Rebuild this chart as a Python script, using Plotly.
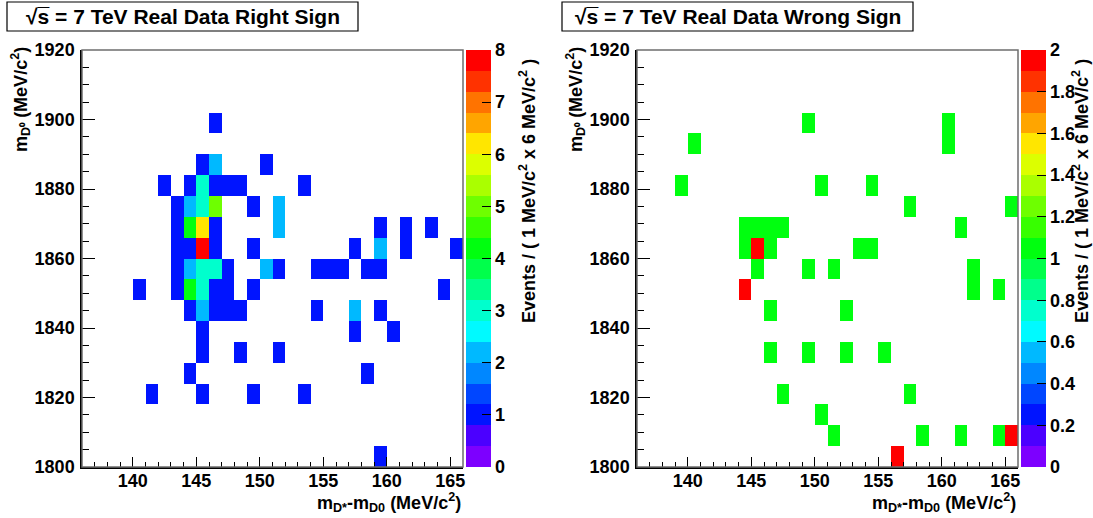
import numpy as np
import plotly.graph_objects as go

W, H = 1093, 518

# ---------------- data ----------------
# bin centres: dm = m(D*) - m(D0) in MeV/c^2 (1 MeV bins), m(D0) in MeV/c^2 (6 MeV bins)
x_edges = np.arange(136, 167, 1)          # 136 .. 166
y_edges = np.arange(1800, 1921, 6)        # 1800 .. 1920

# Right sign: (dm centre, mD0 centre, events)
rs_dm = [146.5,
         145.5, 146.5, 150.5,
         142.5, 144.5, 145.5, 146.5, 147.5, 148.5, 153.5,
         143.5, 144.5, 145.5, 146.5, 149.5, 151.5,
         143.5, 144.5, 145.5, 146.5, 151.5, 159.5, 161.5, 163.5,
         143.5, 144.5, 145.5, 146.5, 149.5, 157.5, 159.5, 161.5, 165.5,
         143.5, 144.5, 145.5, 146.5, 147.5, 150.5, 151.5, 154.5, 155.5, 156.5, 158.5, 159.5,
         140.5, 143.5, 144.5, 145.5, 146.5, 147.5, 149.5, 164.5,
         144.5, 145.5, 146.5, 147.5, 148.5, 154.5, 157.5, 159.5,
         145.5, 157.5, 160.5,
         145.5, 148.5, 151.5,
         144.5, 158.5,
         141.5, 145.5, 149.5, 153.5,
         159.5]
rs_md0 = [1899,
          1887, 1887, 1887,
          1881, 1881, 1881, 1881, 1881, 1881, 1881,
          1875, 1875, 1875, 1875, 1875, 1875,
          1869, 1869, 1869, 1869, 1869, 1869, 1869, 1869,
          1863, 1863, 1863, 1863, 1863, 1863, 1863, 1863, 1863,
          1857, 1857, 1857, 1857, 1857, 1857, 1857, 1857, 1857, 1857, 1857, 1857,
          1851, 1851, 1851, 1851, 1851, 1851, 1851, 1851,
          1845, 1845, 1845, 1845, 1845, 1845, 1845, 1845,
          1839, 1839, 1839,
          1833, 1833, 1833,
          1827, 1827,
          1821, 1821, 1821, 1821,
          1803]
rs_n = [1,
        1, 2, 1,
        1, 1, 3, 1, 1, 1, 1,
        1, 2, 3, 5, 1, 2,
        1, 4, 6, 1, 2, 1, 1, 1,
        1, 1, 8, 1, 1, 1, 2, 1, 1,
        1, 2, 3, 3, 1, 2, 1, 1, 1, 1, 1, 1,
        1, 1, 4, 3, 1, 1, 1, 1,
        1, 2, 1, 1, 1, 1, 2, 1,
        1, 1, 1,
        1, 1, 1,
        1, 1,
        1, 1, 1, 1,
        1]

# Wrong sign
ws_dm = [149.5, 160.5,
         140.5, 160.5,
         139.5, 150.5, 154.5,
         157.5, 165.5,
         144.5, 145.5, 146.5, 147.5, 161.5,
         144.5, 145.5, 146.5, 153.5, 154.5,
         145.5, 149.5, 151.5, 162.5,
         144.5, 162.5, 164.5,
         146.5, 152.5,
         146.5, 149.5, 152.5, 155.5,
         147.5, 157.5,
         150.5,
         151.5, 158.5, 161.5, 164.5, 165.5,
         156.5]
ws_md0 = [1899, 1899,
          1893, 1893,
          1881, 1881, 1881,
          1875, 1875,
          1869, 1869, 1869, 1869, 1869,
          1863, 1863, 1863, 1863, 1863,
          1857, 1857, 1857, 1857,
          1851, 1851, 1851,
          1845, 1845,
          1833, 1833, 1833, 1833,
          1821, 1821,
          1815,
          1809, 1809, 1809, 1809, 1809,
          1803]
ws_n = [1, 1,
        1, 1,
        1, 1, 1,
        1, 1,
        1, 1, 1, 1, 1,
        1, 2, 1, 1, 1,
        1, 1, 1, 1,
        2, 1, 1,
        1, 1,
        1, 1, 1, 1,
        1, 1,
        1,
        1, 1, 1, 1, 2,
        2]

x_ticks = [140, 145, 150, 155, 160, 165]
y_ticks = [1800, 1820, 1840, 1860, 1880, 1900, 1920]
rs_ticks = [0, 1, 2, 3, 4, 5, 6, 7, 8]
rs_ticktext = ["0", "1", "2", "3", "4", "5", "6", "7", "8"]
ws_ticks = [0, 0.2, 0.4, 0.6, 0.8, 1.0, 1.2, 1.4, 1.6, 1.8, 2.0]
ws_ticktext = ["0", "0.2", "0.4", "0.6", "0.8", "1", "1.2", "1.4", "1.6", "1.8", "2"]

palette = ["rgb(125,0,255)", "rgb(75,0,255)", "rgb(0,20,255)", "rgb(0,70,255)",
           "rgb(0,135,255)", "rgb(0,185,255)", "rgb(0,250,255)", "rgb(0,255,205)",
           "rgb(0,255,140)", "rgb(0,255,75)", "rgb(0,255,15)", "rgb(55,255,0)",
           "rgb(110,255,0)", "rgb(170,255,0)", "rgb(220,255,0)", "rgb(255,230,0)",
           "rgb(255,165,0)", "rgb(255,115,0)", "rgb(255,50,0)", "rgb(255,0,0)"]


def stepped(colors):
    n = len(colors)
    eps = 1e-4
    cs = []
    for i, c in enumerate(colors):
        lo = 0.0 if i == 0 else i / n - eps
        hi = 1.0 if i == n - 1 else (i + 1) / n - eps
        cs.append([lo, c])
        cs.append([hi, c])
    return cs


def grid(xs, ys, ns):
    xc = (x_edges[:-1] + x_edges[1:]) / 2
    yc = (y_edges[:-1] + y_edges[1:]) / 2
    z = np.full((len(yc), len(xc)), np.nan)
    for x, y, n in zip(xs, ys, ns):
        i = int(np.argmin(np.abs(yc - y)))
        j = int(np.argmin(np.abs(xc - x)))
        z[i, j] = n
    return xc, yc, z


def bold(lst):
    return ["<b>%s</b>" % s for s in lst]


FONT = "Liberation Sans, Arial, Helvetica, sans-serif"


def px(xp):
    return xp / W


def py(yp):
    return 1 - yp / H


fig = go.Figure()

panels = [
    dict(xs=rs_dm, ys=rs_md0, ns=rs_n, zmax=8, ticks=rs_ticks, tt=rs_ticktext,
         xd=(82, 463), cbx=466, xa="x", ya="y"),
    dict(xs=ws_dm, ys=ws_md0, ns=ws_n, zmax=2, ticks=ws_ticks, tt=ws_ticktext,
         xd=(637, 1018), cbx=1021, xa="x2", ya="y2"),
]

PT, PB = 50, 467
for p in panels:
    xc, yc, z = grid(p["xs"], p["ys"], p["ns"])
    fig.add_trace(go.Heatmap(
        x=xc, y=yc, z=z, zmin=0, zmax=p["zmax"],
        colorscale=stepped(palette), xaxis=p["xa"], yaxis=p["ya"],
        hoverongaps=False,
        colorbar=dict(
            x=px(p["cbx"]), xanchor="left", xpad=0, ypad=0,
            y=py((PT + PB) / 2), yanchor="middle",
            len=(PB - PT) / H, lenmode="fraction",
            thickness=25, thicknessmode="pixels",
            outlinewidth=0,
            tickmode="array", tickvals=p["ticks"], ticktext=bold(p["tt"]),
            ticks="inside", ticklen=9, tickwidth=1, tickcolor="black",
            tickfont=dict(family=FONT, size=18, color="black"),
        ),
    ))

axis_common = dict(
    showgrid=False, zeroline=False, showline=True, linecolor="black", linewidth=1.5,
    mirror=False, ticks="inside", tickcolor="black", tickwidth=1,
    tickfont=dict(family=FONT, size=18, color="black"),
)

layout = dict(
    width=W, height=H, margin=dict(l=0, r=0, t=0, b=0, autoexpand=False),
    paper_bgcolor="white", plot_bgcolor="white", showlegend=False,
)
for p, (xk, yk) in zip(panels, [("xaxis", "yaxis"), ("xaxis2", "yaxis2")]):
    layout[xk] = dict(axis_common, domain=[px(p["xd"][0]), px(p["xd"][1])],
                      range=[136, 166], tickmode="array", tickvals=x_ticks,
                      ticktext=bold([str(v) for v in x_ticks]),
                      ticklen=10, ticklabelstandoff=-3,
                      minor=dict(tickmode="linear", dtick=1, tick0=136, ticklen=5,
                                 ticks="inside", tickcolor="black", tickwidth=1),
                      anchor=p["ya"])
    layout[yk] = dict(axis_common, domain=[py(PB), py(PT)],
                      range=[1800, 1920], tickmode="array", tickvals=y_ticks,
                      ticktext=bold([str(v) for v in y_ticks]),
                      ticklen=13, ticklabelstandoff=2,
                      minor=dict(tickmode="linear", dtick=5, tick0=1800, ticklen=7,
                                 ticks="inside", tickcolor="black", tickwidth=1),
                      anchor=p["xa"])
fig.update_layout(**layout)

shapes = []
annotations = []
titles = ["Right Sign", "Wrong Sign"]
boxes = [(7, 358), (562, 913)]
ytitle_x = [20, 575]
cbtitle_x = [527, 1080]
for p, t, (b0, b1), ytx, cbt in zip(panels, titles, boxes, ytitle_x, cbtitle_x):
    # frame
    shapes.append(dict(type="rect", xref="paper", yref="paper",
                       x0=px(p["xd"][0]), x1=px(p["xd"][1]), y0=py(PB), y1=py(PT),
                       line=dict(color="rgb(110,110,110)", width=1.5), layer="above"))
    # title box
    shapes.append(dict(type="rect", xref="paper", yref="paper",
                       x0=px(b0), x1=px(b1), y0=py(31), y1=py(2),
                       line=dict(color="black", width=1.2), fillcolor="white"))
    annotations.append(dict(
        x=px((b0 + b1) / 2), y=py(16.5), xref="paper", yref="paper",
        xanchor="center", yanchor="middle", showarrow=False,
        text="<b>\u221as\u0305 = 7 TeV Real Data " + t + "</b>",
        font=dict(family=FONT, size=21, color="black")))
    # y title
    annotations.append(dict(
        x=px(ytx), y=py(100), xref="paper", yref="paper",
        xanchor="center", yanchor="middle", showarrow=False, textangle=-90,
        text="<b>m<sub>D\u2070</sub> (MeV/c<sup>2</sup>)</b>",
        font=dict(family=FONT, size=18, color="black")))
    # x title
    annotations.append(dict(
        x=px(p["xd"][1]), y=py(502), xref="paper", yref="paper",
        xanchor="right", yanchor="middle", showarrow=False,
        text="<b>m<sub>D*</sub>-m<sub>D0</sub> (MeV/c<sup>2</sup>)</b>",
        font=dict(family=FONT, size=18, color="black")))
    # colorbar title
    annotations.append(dict(
        x=px(cbt), y=py(191), xref="paper", yref="paper",
        xanchor="center", yanchor="middle", showarrow=False, textangle=-90,
        text="<b>Events / ( 1 MeV/c<sup>2</sup> x 6 MeV/c<sup>2</sup> )</b>",
        font=dict(family=FONT, size=18, color="black")))

fig.update_layout(shapes=shapes, annotations=annotations)
fig.write_html("out.html")
